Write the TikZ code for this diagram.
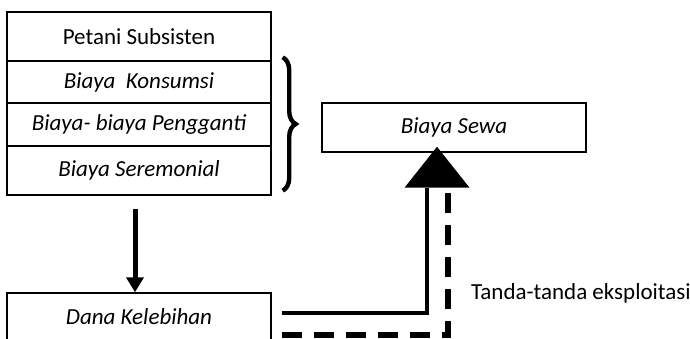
\documentclass[tikz,border=0pt]{standalone}
\usepackage{fontspec}
\setmainfont{Carlito}
\usetikzlibrary{arrows.meta, positioning, calc, decorations.pathreplacing}

\begin{document}
\begin{tikzpicture}[x=0.5pt, y=-0.5pt,
    box/.style={rectangle, draw, line width=0.7pt, minimum width=132pt, inner sep=0pt, font=\fontsize{11.5}{14}\selectfont\itshape},
    arrow/.style={-{Triangle[width=8.5pt,length=7.5pt]}, line width=2.5pt},
    flow/.style={line width=2pt},
    exploit/.style={line width=3pt, dash pattern=on 10pt off 6pt},
    brace/.style={decorate, decoration={brace, amplitude=6.5pt}, line width=2.2pt}
]
\useasboundingbox (0,0) rectangle (690,338);

% Farmer stack
\node[box, minimum height=24.5pt, font=\fontsize{11.5}{14}\selectfont] (petani) at (139,36.5) {Petani Subsisten};
\node[box, minimum height=21pt] (konsumsi) at (139,82) {Biaya\ \ Konsumsi};
\node[box, minimum height=21.5pt] (pengganti) at (139,124.5) {Biaya- biaya Pengganti};
\node[box, minimum height=24.5pt] (seremonial) at (139,170.5) {Biaya Seremonial};

% Rent and surplus
\node[box, minimum height=24.5pt] (sewa) at (454,127.5) {Biaya Sewa};
\node[box, minimum height=24pt] (dana) at (139,317) {Dana Kelebihan};

% Brace over the costs
\draw[brace] ($(konsumsi.north east)+(11,-3)$) -- ($(seremonial.south east)+(11,-5)$);

% Arrows
\draw[arrow] ([xshift=-2pt,yshift=-6.5pt]seremonial.south) -- ([xshift=-2pt]dana.north);

\coordinate (tip) at ($(sewa.south)+(-17,-6)$);
\fill (tip) -- ++(-32.5,41) -- ++(65,0) -- cycle;
\draw[flow] ($(dana.east)+(10,-4)$) -| ($(tip)+(-10,41)$);
\draw[exploit] ($(dana.east)+(10,18)$) -| ($(tip)+(11,41)$);

\node[anchor=west, font=\fontsize{11.5}{14}\selectfont] (tanda) at (464,293) {Tanda-tanda eksploitasi};

\end{tikzpicture}
\end{document}
